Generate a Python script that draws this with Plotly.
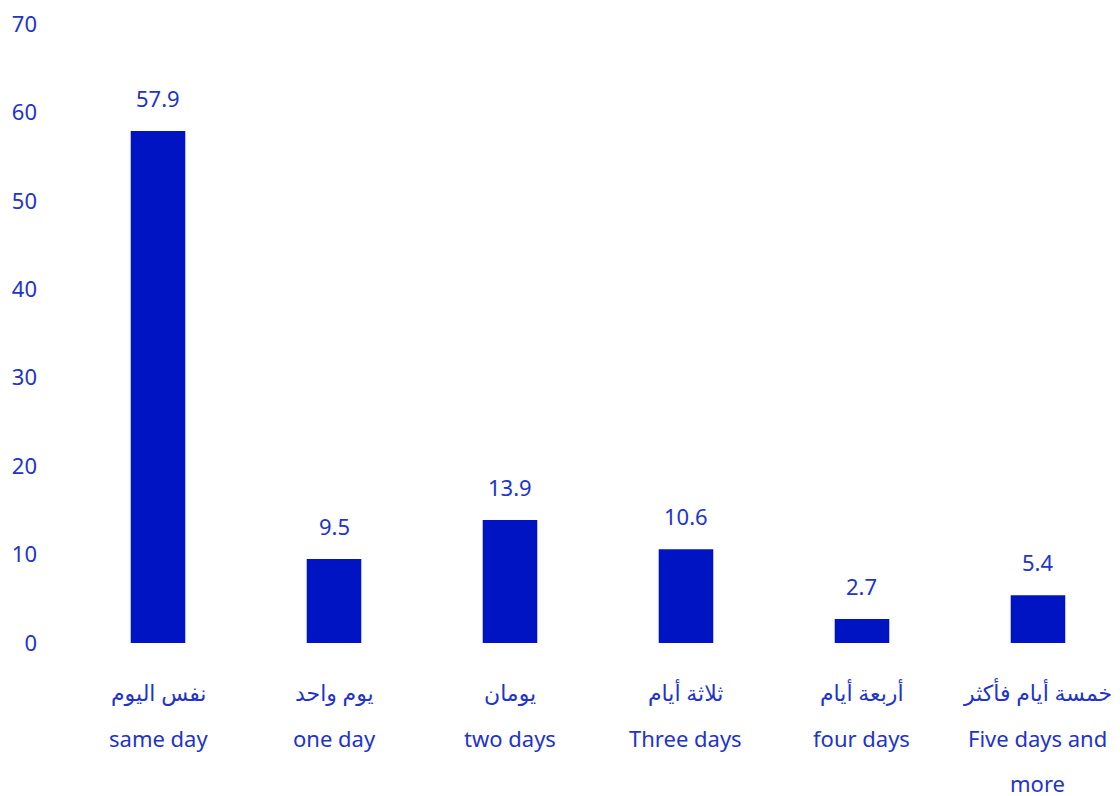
import plotly.graph_objects as go

categories = ["c1", "c2", "c3", "c4", "c5", "c6"]
values = [57.9, 9.5, 13.9, 10.6, 2.7, 5.4]
arabic_labels = ["نفس اليوم", "يوم واحد", "يومان", "ثلاثة أيام", "أربعة أيام", "خمسة أيام فأكثر"]
english_labels = [["same day"], ["one day"], ["two days"], ["Three days"], ["four days"], ["Five days and", "more"]]
y_ticks = [0, 10, 20, 30, 40, 50, 60, 70]

BAR = "#0014C4"
TXT = "#2233CC"
FONT = "Noto Sans, DejaVu Sans, sans-serif"
FS = 22

fig = go.Figure()
fig.add_trace(go.Bar(x=categories, y=values, marker=dict(color=BAR, line=dict(width=0)), width=0.31, hoverinfo="skip"))

annotations = []
for c, v in zip(categories, values):
    annotations.append(dict(x=c, y=v, xref="x", yref="y", text=f"{v:.1f}", showarrow=False,
                            yanchor="middle", yshift=33, font=dict(family=FONT, size=FS, color=TXT)))
for c, ar, en in zip(categories, arabic_labels, english_labels):
    annotations.append(dict(x=c, y=0, xref="x", yref="paper", text=ar, showarrow=False,
                            yanchor="middle", yshift=-49, font=dict(family=FONT, size=FS, color=TXT)))
    for i, line in enumerate(en):
        annotations.append(dict(x=c, y=0, xref="x", yref="paper", text=line, showarrow=False,
                                yanchor="middle", yshift=-95 - 45 * i, font=dict(family=FONT, size=FS, color=TXT)))

fig.update_layout(
    width=1112, height=788,
    margin=dict(l=62, r=0, t=13, b=153),
    paper_bgcolor="white", plot_bgcolor="white",
    showlegend=False,
    annotations=annotations,
    font=dict(family=FONT, size=FS, color=TXT),
    xaxis=dict(range=[-0.5, 5.466], showticklabels=False, showgrid=False, zeroline=False, showline=False, ticks=""),
    yaxis=dict(range=[0, 70], tickvals=y_ticks, showgrid=False, zeroline=False, showline=False, ticks="",
               ticklabelstandoff=32, ticklabeloverflow="allow",
               tickfont=dict(family=FONT, size=FS, color=TXT)),
)

fig.write_html("out.html")
